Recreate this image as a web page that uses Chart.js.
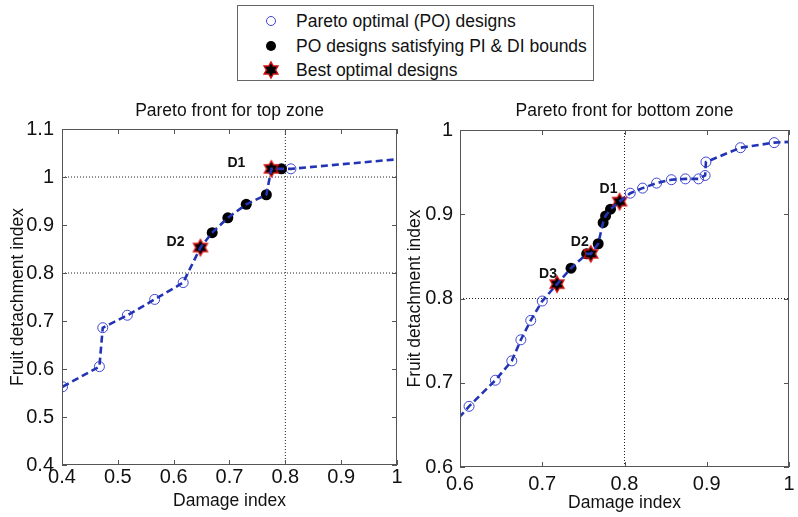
<!DOCTYPE html>
<html><head><meta charset="utf-8">
<script src="https://cdn.jsdelivr.net/npm/chart.js@4.4.1/dist/chart.umd.min.js"></script>
<style>
html,body{margin:0;padding:0;background:#fff;width:798px;height:517px;overflow:hidden;}
canvas.cv{position:absolute;left:0;top:0;}
#legend{position:absolute;left:237px;top:5px;width:357px;height:76px;border:1px solid #666;box-sizing:border-box;background:#fff;font:17.5px "Liberation Sans",Arial,sans-serif;color:#111;}
#legend .row{position:absolute;left:0;height:20px;line-height:20px;white-space:nowrap;}
#legend .row span{position:absolute;left:58px;top:0;}
#legend .row canvas{position:absolute;left:23px;top:0;}
</style></head>
<body>
<canvas id="cTop" class="cv" width="798" height="517"></canvas>
<canvas id="cBot" class="cv" width="798" height="517"></canvas>
<div id="legend">
  <div class="row" style="top:5px"><canvas id="lg0" width="20" height="20"></canvas><span id="lt0"></span></div>
  <div class="row" style="top:30px"><canvas id="lg1" width="20" height="20"></canvas><span id="lt1"></span></div>
  <div class="row" style="top:54px"><canvas id="lg2" width="20" height="20"></canvas><span id="lt2"></span></div>
</div>
<script>
// ---------- DATA ----------
const legendLabels = ['Pareto optimal (PO) designs', 'PO designs satisfying PI & DI bounds', 'Best optimal designs'];

// Top zone
const topTitle = 'Pareto front for top zone';
const topX = [0.401, 0.467, 0.473, 0.517, 0.566, 0.617, 0.648, 0.669, 0.697, 0.730, 0.766, 0.775, 0.793, 0.810, 1.02];
const topY = [0.563, 0.605, 0.686, 0.712, 0.745, 0.780, 0.853, 0.884, 0.915, 0.943, 0.963, 1.017, 1.017, 1.017, 1.039];
const topFeasX = [0.669, 0.697, 0.730, 0.766, 0.793];
const topFeasY = [0.884, 0.915, 0.943, 0.963, 1.017];
const topBestX = [0.775, 0.648];
const topBestY = [1.017, 0.853];
const topBestLabels = ['D1', 'D2'];
const topBoundX = [0.8];
const topBoundY = [0.8, 1.0];
const topXTicks = [0.4, 0.5, 0.6, 0.7, 0.8, 0.9, 1.0];
const topYTicks = [0.4, 0.5, 0.6, 0.7, 0.8, 0.9, 1.0, 1.1];

// Bottom zone
const botTitle = 'Pareto front for bottom zone';
const botX = [0.59, 0.611, 0.643, 0.663, 0.674, 0.686, 0.700, 0.718, 0.735, 0.754, 0.759, 0.768, 0.774, 0.777, 0.783, 0.794, 0.807, 0.822, 0.839, 0.857, 0.874, 0.890, 0.898, 0.899, 0.941, 0.982, 1.02];
const botY = [0.649, 0.672, 0.703, 0.726, 0.751, 0.774, 0.797, 0.817, 0.836, 0.853, 0.853, 0.865, 0.890, 0.898, 0.906, 0.915, 0.925, 0.931, 0.937, 0.941, 0.942, 0.942, 0.946, 0.962, 0.979, 0.985, 0.987];
const botFeasX = [0.735, 0.754, 0.768, 0.774, 0.777, 0.783];
const botFeasY = [0.836, 0.853, 0.865, 0.890, 0.898, 0.906];
const botBestX = [0.794, 0.759, 0.718];
const botBestY = [0.915, 0.853, 0.817];
const botBestLabels = ['D1', 'D2', 'D3'];
const botBoundX = [0.8];
const botBoundY = [0.8];
const botXTicks = [0.6, 0.7, 0.8, 0.9, 1.0];
const botYTicks = [0.6, 0.7, 0.8, 0.9, 1.0];

// ---------- STYLE ----------
const FONT = '"Liberation Sans", Arial, Helvetica, sans-serif';
const LINE_COLOR = '#2234b4';
const CIRCLE_COLOR = '#3f45d2';
const TEXT_COLOR = '#111';

function hexagram(r, fill, stroke, lw) {
  const s = Math.ceil(2 * r + lw + 2);
  const c = document.createElement('canvas');
  c.width = s; c.height = s;
  const g = c.getContext('2d');
  const cx = s / 2, cy = s / 2, ri = r / Math.sqrt(3);
  g.beginPath();
  for (let k = 0; k < 12; k++) {
    const rr = k % 2 === 0 ? r : ri;
    const a = -Math.PI / 2 + k * Math.PI / 6;
    const px = cx + rr * Math.cos(a), py = cy + rr * Math.sin(a);
    if (k === 0) g.moveTo(px, py); else g.lineTo(px, py);
  }
  g.closePath();
  g.fillStyle = fill; g.fill();
  g.lineWidth = lw; g.strokeStyle = stroke; g.stroke();
  return c;
}
const starImg = hexagram(8, '#000', '#d01010', 1.4);

// legend
legendLabels.forEach((t, i) => { document.getElementById('lt' + i).textContent = t; });
(function(){
  let g = document.getElementById('lg0').getContext('2d');
  g.beginPath(); g.arc(10, 10, 4.5, 0, Math.PI * 2); g.strokeStyle = CIRCLE_COLOR; g.lineWidth = 1; g.stroke();
  g = document.getElementById('lg1').getContext('2d');
  g.beginPath(); g.arc(10, 10, 5, 0, Math.PI * 2); g.fillStyle = '#000'; g.fill();
  g = document.getElementById('lg2').getContext('2d');
  g.drawImage(starImg, 10 - starImg.width / 2, 10 - starImg.height / 2);
})();

const framePlugin = {
  id: 'frame',
  afterDraw(chart) {
    const o = chart.options.plugins.frame;
    const { ctx, chartArea: a, scales: { x, y } } = chart;
    ctx.save();
    ctx.strokeStyle = '#555';
    ctx.lineWidth = 1;
    ctx.strokeRect(a.left + 0.5, a.top + 0.5, a.right - a.left - 1, a.bottom - a.top - 1);
    ctx.beginPath();
    o.xTicks.forEach(v => {
      const p = Math.round(x.getPixelForValue(v)) + 0.5;
      ctx.moveTo(p, a.bottom); ctx.lineTo(p, a.bottom - 5);
      ctx.moveTo(p, a.top); ctx.lineTo(p, a.top + 5);
    });
    o.yTicks.forEach(v => {
      const p = Math.round(y.getPixelForValue(v)) + 0.5;
      ctx.moveTo(a.left, p); ctx.lineTo(a.left + 5, p);
      ctx.moveTo(a.right, p); ctx.lineTo(a.right - 5, p);
    });
    ctx.stroke();
    ctx.fillStyle = '#111';
    ctx.font = 'bold 14px ' + FONT;
    ctx.textAlign = 'center';
    ctx.textBaseline = 'middle';
    o.labels.forEach((t, i) => {
      const px = x.getPixelForValue(o.lx[i]) + o.off[i][0];
      const py = y.getPixelForValue(o.ly[i]) + o.off[i][1];
      ctx.fillText(t, px, py);
    });
    ctx.restore();
  }
};

function pts(xs, ys) { return xs.map((v, i) => ({ x: v, y: ys[i] })); }
const fmt = v => String(Math.round(v * 10) / 10);

function makeChart(id, d) {
  const feasKey = new Set(d.feasX.map((v, i) => v + '|' + d.feasY[i]));
  const bestKey = new Set(d.bestX.map((v, i) => v + '|' + d.bestY[i]));
  const circX = [], circY = [];
  d.xs.forEach((v, i) => {
    const k = v + '|' + d.ys[i];
    if (!feasKey.has(k) && !bestKey.has(k)) { circX.push(v); circY.push(d.ys[i]); }
  });
  const datasets = [
    { data: pts(d.xs, d.ys), showLine: true, borderColor: LINE_COLOR, borderWidth: 2.6, borderDash: [7, 4], pointRadius: 0, fill: false },
    { data: pts(d.bestX, d.bestY), pointStyle: starImg, pointRadius: 8 },
    { data: pts(d.feasX, d.feasY), pointStyle: 'circle', pointRadius: 5.5, backgroundColor: '#000', borderColor: '#000', borderWidth: 0 },
    { data: pts(circX, circY), pointStyle: 'circle', pointRadius: 5, backgroundColor: 'rgba(0,0,0,0)', borderColor: CIRCLE_COLOR, borderWidth: 1 }
  ];
  d.boundX.forEach(b => datasets.push({ data: [{ x: b, y: d.yMin }, { x: b, y: d.yMax }], showLine: true, borderColor: '#222', borderWidth: 1, borderDash: [1, 2], pointRadius: 0 }));
  d.boundY.forEach(b => datasets.push({ data: [{ x: d.xMin, y: b }, { x: d.xMax, y: b }], showLine: true, borderColor: '#222', borderWidth: 1, borderDash: [1, 2], pointRadius: 0 }));

  return new Chart(document.getElementById(id), {
    type: 'scatter',
    data: { datasets },
    plugins: [framePlugin],
    options: {
      responsive: false, animation: false, devicePixelRatio: 1,
      layout: { padding: d.pad },
      plugins: {
        legend: { display: false }, tooltip: { enabled: false },
        title: { display: true, text: d.title, fullSize: false, color: TEXT_COLOR, font: { family: FONT, size: 17.5, weight: 'normal' }, padding: d.titlePad },
        frame: { xTicks: d.xTicks, yTicks: d.yTicks, labels: d.bestLabels, lx: d.bestX, ly: d.bestY, off: d.labelOff }
      },
      scales: {
        x: {
          type: 'linear', min: d.xMin, max: d.xMax,
          grid: { display: false, drawTicks: false }, border: { display: false },
          ticks: { stepSize: 0.1, color: TEXT_COLOR, font: { family: FONT, size: 20 }, padding: d.xTickPad, maxRotation: 0, autoSkip: false, callback: fmt },
          title: { display: true, text: 'Damage index', color: TEXT_COLOR, font: { family: FONT, size: 17.5 }, padding: { top: 0, bottom: 0 } },
          afterFit(s) { s.height = 47; s.paddingLeft = 0; s.paddingRight = 0; }
        },
        y: {
          type: 'linear', min: d.yMin, max: d.yMax,
          grid: { display: false, drawTicks: false }, border: { display: false },
          ticks: { stepSize: 0.1, color: TEXT_COLOR, font: { family: FONT, size: 20 }, padding: d.yTickPad, autoSkip: false, callback: fmt },
          title: { display: true, text: 'Fruit detachment index', color: TEXT_COLOR, font: { family: FONT, size: 17.5 }, padding: { top: d.yTitlePad, bottom: 0 } },
          afterFit(s) { s.width = d.yW; s.paddingTop = 0; s.paddingBottom = 0; }
        }
      }
    }
  });
}

makeChart('cTop', {
  xs: topX, ys: topY, feasX: topFeasX, feasY: topFeasY, bestX: topBestX, bestY: topBestY, bestLabels: topBestLabels,
  labelOff: [[-35, -6], [-25, -5]],
  boundX: topBoundX, boundY: topBoundY, xMin: 0.4, xMax: 1.0, yMin: 0.4, yMax: 1.1,
  xTicks: topXTicks, yTicks: topYTicks, title: topTitle,
  pad: { left: 4, right: 401, top: 90, bottom: 5 }, titlePad: { top: 11, bottom: 7 },
  yW: 58, yTitlePad: 4, xTickPad: 0, yTickPad: 8
});
makeChart('cBot', {
  xs: botX, ys: botY, feasX: botFeasX, feasY: botFeasY, bestX: botBestX, bestY: botBestY, bestLabels: botBestLabels,
  labelOff: [[-11, -12], [-11, -12], [-9, -10]],
  boundX: botBoundX, boundY: botBoundY, xMin: 0.6, xMax: 1.0, yMin: 0.6, yMax: 1.0,
  xTicks: botXTicks, yTicks: botYTicks, title: botTitle,
  pad: { left: 400, right: 0, top: 90, bottom: 3 }, titlePad: { top: 11, bottom: 8 },
  yW: 60, yTitlePad: 5, xTickPad: 5, yTickPad: 7
});
</script>
</body></html>
